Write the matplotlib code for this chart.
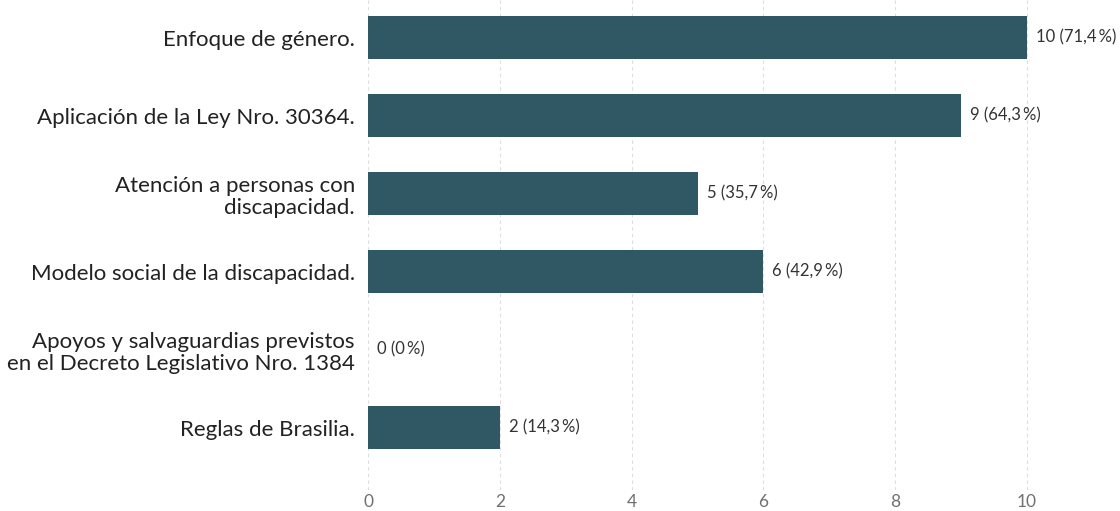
import matplotlib
matplotlib.use('Agg')
import matplotlib.pyplot as plt

categories = ['Enfoque de género.',
              'Aplicación de la Ley Nro. 30364.',
              'Atención a personas con\ndiscapacidad.',
              'Modelo social de la discapacidad.',
              'Apoyos y salvaguardias previstos\nen el Decreto Legislativo Nro. 1384',
              'Reglas de Brasilia.']
counts = [10, 9, 5, 6, 0, 2]
percents = ['71,4', '64,3', '35,7', '42,9', '0', '14,3']
xticks = [0, 2, 4, 6, 8, 10]

plt.rcParams['font.family'] = ['Lato', 'DejaVu Sans']

fig = plt.figure(figsize=(11.2, 5.11), dpi=100)
ax = fig.add_axes([368 / 1120, 21 / 511, 11.4 * 65.9 / 1120, 491.5 / 511])

ypos = list(range(len(categories)))
ax.barh(ypos, counts, height=0.55, color='#2f5764', zorder=3)

for y, c, p in zip(ypos, counts, percents):
    ax.annotate(f'{c} ({p}\u2009%)', (c, y), xytext=(6.5, 0), textcoords='offset points',
                va='center', ha='left', fontsize=12, color='#333333')

ax.set_xlim(0, 11.4)
ax.set_ylim(5.8, -0.5)
ax.set_yticks(ypos)
ax.set_yticklabels(categories, fontsize=16, color='#222222', linespacing=1.15)
ax.set_xticks(xticks)
ax.set_xticklabels([str(t) for t in xticks], fontsize=12.5, color='#707070')
ax.tick_params(axis='y', length=0, pad=9.5)
ax.tick_params(axis='x', length=0, pad=3)
for s in ax.spines.values():
    s.set_visible(False)
ax.grid(axis='x', color='#dddddd', linestyle=(0, (3, 3)), linewidth=0.8, zorder=0)

fig.savefig('out.png', dpi=100)
